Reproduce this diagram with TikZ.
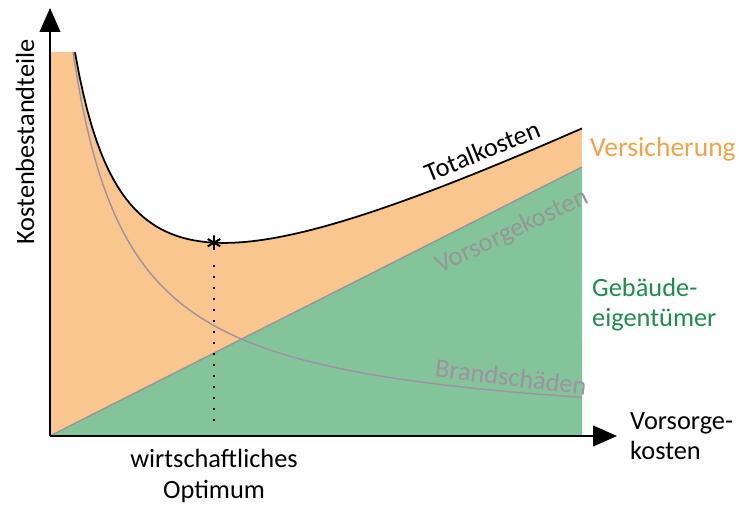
\documentclass[tikz,border=0pt]{standalone}
\usepackage{fontspec}
\setmainfont{Carlito}
\usetikzlibrary{arrows.meta}
\usetikzlibrary{positioning}

\definecolor{fillorange}{RGB}{248,198,142}
\definecolor{fillgreen}{RGB}{132,196,154}
\definecolor{textorange}{RGB}{240,163,72}
\definecolor{textgreen}{RGB}{30,140,75}
\definecolor{linegray}{RGB}{150,150,150}
\definecolor{brandgray}{RGB}{160,145,160}

\tikzset{
  axis/.style={line width=1.6pt, -{Triangle[length=0.72cm, width=0.62cm]}},
  curvelabel/.style={font=\fontsize{22.5}{26}\selectfont, inner sep=0pt},
}

\begin{document}
\begin{tikzpicture}[x=0.3cm, y=0.3cm,
    declare function={brand(\u)=218.52/(\u+3.39); vors(\u)=0.5056*\u; total(\u)=vors(\u)+brand(\u);}]
        % Parameters
        \def\umax{53.2} % End of the cost range
        \def\uopt{16.4} % Economic optimum
        \def\ytop{38.4} % Top of the chart
        \useasboundingbox (-5,-7.1) rectangle (68.9,43.6);

        % Areas
        \fill[fillorange] (0,0) -- (0,\ytop) -- (2.5,\ytop) -- plot[domain=2.5:\umax, samples=120] (\x,{total(\x)}) -- (\umax,0) -- cycle;
        \fill[fillgreen] (0,0) -- (\umax,{vors(\umax)}) -- (\umax,0) -- cycle;

        % Cost curves
        \draw[linegray, line width=1.2pt] (0,0) -- (\umax,{vors(\umax)}); % Vorsorgekosten
        \draw[brandgray, line width=1.2pt] plot[domain=2.3:\umax, samples=120] (\x,{brand(\x)}); % Brandschaeden
        \draw[black, line width=1.5pt] plot[domain=2.5:\umax, samples=120] (\x,{total(\x)}); % Totalkosten

        % Optimum
        \node[circle, inner sep=0pt, minimum size=0.42cm] (opt) at (\uopt,{total(\uopt)}) {};
        \coordinate (optx) at (\uopt,0);
        \draw[line width=1.2pt, dash pattern=on 1.5pt off 7.9pt, shorten <=0.45cm, shorten >=0.3cm] (opt) -- (optx); % Dotted drop line
        \draw[line width=1.7pt] (opt.north) -- (opt.south) (opt.30) -- (opt.210) (opt.150) -- (opt.330); % Star

        % Axes
        \coordinate (origin) at (0,0);
        \coordinate (ytip) at (0,42.8);
        \coordinate (xtip) at (56.7,0);
        \draw[axis] (origin) -- (ytip); % y-axis
        \draw[axis] (origin) -- (xtip); % x-axis

        % Labels
        \node[curvelabel, rotate=90] (ylabel) at (-2.5,29.4) {Kostenbestandteile};
        \node[curvelabel, rotate=22] (totlabel) at (43.2,28.5) {Totalkosten};
        \node[curvelabel, textorange, anchor=base west, font=\fontsize{23.5}{26}\selectfont] (verslabel) at (54,27.9) {Versicherung};
        \node[curvelabel, linegray, rotate=25.5] (vorslabel) at (46.2,20.4) {Vorsorgekosten};
        \node[curvelabel, textgreen, anchor=base west, align=left] (geblabel) at (54.2,10.9) {Gebäude-\\eigentümer};
        \node[curvelabel, brandgray, rotate=-7] (brandlabel) at (46.1,5.9) {Brandschäden};
        \node[curvelabel, align=left, right=0.39cm of xtip] (xlabel) {Vorsorge-\\kosten};
        \node[curvelabel, align=center, below=0.4cm of optx] (optlabel) {wirtschaftliches\\Optimum};
\end{tikzpicture}
\end{document}
